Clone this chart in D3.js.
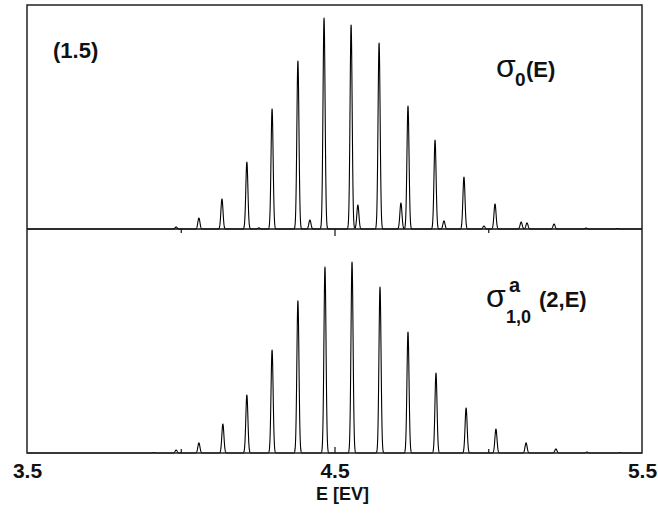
<!DOCTYPE html>
<html>
<head>
<meta charset="utf-8">
<script src="https://cdn.jsdelivr.net/npm/d3@7"></script>
<style>
  html, body { margin: 0; padding: 0; background: #fff; }
  svg { display: block; }
  text { font-family: "Liberation Sans", Arial, sans-serif; fill: #111; }
</style>
</head>
<body>
<svg id="chart" width="658" height="518"></svg>
<script>
// ---- data ----
// upper panel sigma_0(E): peak energies (eV) and heights (arb. units)
const topPeakE = [3.985, 4.059, 4.134, 4.215, 4.254, 4.297, 4.381, 4.420, 4.466, 4.554, 4.576, 4.645, 4.716, 4.739, 4.827, 4.856, 4.921, 4.986, 5.022, 5.107, 5.126, 5.214, 5.318, 5.419];
const topPeakH = [0.9, 4.9, 13.4, 29.9, 0.5, 53.6, 75.0, 4.0, 94.2, 91.1, 10.7, 83.0, 11.6, 54.9, 39.7, 3.6, 23.2, 1.3, 11.2, 3.1, 2.7, 2.2, 0.4, 0.2];
// lower panel sigma^a_{1,0}(2,E)
const botPeakE = [3.913, 3.985, 4.059, 4.137, 4.215, 4.297, 4.381, 4.469, 4.557, 4.648, 4.739, 4.830, 4.928, 5.025, 5.123, 5.220, 5.321, 5.428];
const botPeakH = [0.2, 1.3, 4.5, 12.9, 25.9, 46.0, 67.9, 83.0, 85.3, 74.1, 54.0, 35.7, 20.1, 10.7, 4.5, 1.8, 0.4, 0.2];
const xDomain = [3.5, 5.5];
const xLabelTicks = [3.5, 4.5, 5.5];
const minorTicks = [4.0, 5.0];
const majorTicks = [4.5];
const xTitle = "E [EV]";
const panelLabel = "(1.5)";

// ---- layout ----
const svg = d3.select("#chart");
const L = 27, R = 642, T = 5, M = 229, B = 453;
const x = d3.scaleLinear().domain(xDomain).range([L, R]);
const yTop = d3.scaleLinear().domain([0, 100]).range([M, T]);
const yBot = d3.scaleLinear().domain([0, 100]).range([B, M]);

// line profile built from peak lists (narrow line shape)
const grid = d3.range(xDomain[0], xDomain[1] + 1e-9, 0.0005);
const width = 0.0034;
function spectrum(Es, Hs) {
  return grid.map(e => {
    let v = 0;
    for (let i = 0; i < Es.length; i++) {
      const d = (e - Es[i]) / width;
      if (Math.abs(d) < 8) v += Hs[i] * Math.exp(-0.5 * d * d);
    }
    return [e, v];
  });
}

const lineTop = d3.line().x(d => x(d[0])).y(d => yTop(d[1]));
const lineBot = d3.line().x(d => x(d[0])).y(d => yBot(d[1]));

svg.append("path").attr("d", lineTop(spectrum(topPeakE, topPeakH)))
  .attr("fill", "none").attr("stroke", "#000").attr("stroke-width", 1.1).attr("stroke-linejoin", "round");
svg.append("path").attr("d", lineBot(spectrum(botPeakE, botPeakH)))
  .attr("fill", "none").attr("stroke", "#000").attr("stroke-width", 1.1).attr("stroke-linejoin", "round");

// frame
svg.append("rect").attr("x", L).attr("y", T).attr("width", R - L).attr("height", B - T)
  .attr("fill", "none").attr("stroke", "#222").attr("stroke-width", 1.5);
svg.append("line").attr("x1", L).attr("x2", R).attr("y1", M).attr("y2", M)
  .attr("stroke", "#111").attr("stroke-width", 1.5);

// ticks: upper panel bottom axis (outward, down), lower panel bottom axis (inward, up)
const gMid = svg.append("g").attr("transform", `translate(0,${M})`);
gMid.call(d3.axisBottom(x).tickValues(minorTicks).tickSize(4).tickFormat(""));
gMid.append("g").call(d3.axisBottom(x).tickValues(majorTicks).tickSize(7).tickFormat(""));
const gBot = svg.append("g").attr("transform", `translate(0,${B})`);
gBot.call(d3.axisTop(x).tickValues(minorTicks).tickSize(4).tickFormat(""));
gBot.append("g").call(d3.axisTop(x).tickValues(majorTicks).tickSize(6).tickFormat(""));
svg.selectAll(".domain").remove();
svg.selectAll(".tick line").attr("stroke", "#111").attr("stroke-width", 1.2);

// tick labels
const gLab = svg.append("g").attr("transform", `translate(0,${B})`);
gLab.call(d3.axisBottom(x).tickValues(xLabelTicks).tickSize(0).tickPadding(10).tickFormat(d3.format(".1f")));
gLab.select(".domain").remove();
gLab.selectAll("text").attr("font-size", 21).attr("font-family", "Liberation Sans, Arial, sans-serif")
  .style("font-weight", "bold").attr("fill", "#111");

// axis title
svg.append("text").attr("x", x(4.5) + 8).attr("y", 500).attr("text-anchor", "middle")
  .attr("font-size", 18).style("font-weight", "bold").text(xTitle);

// panel label
svg.append("text").attr("x", 53).attr("y", 58).attr("font-size", 22).style("font-weight", "bold").text(panelLabel);

// sigma_0(E)
svg.append("text").attr("x", 496).attr("y", 77).attr("font-size", 32).style("font-weight", "normal").text("σ");
svg.append("text").attr("x", 515).attr("y", 86).attr("font-size", 19).style("font-weight", "bold").text("0");
svg.append("text").attr("x", 526).attr("y", 77).attr("font-size", 22).style("font-weight", "bold").text("(E)");

// sigma^a_{1,0}(2,E)
svg.append("text").attr("x", 486).attr("y", 307).attr("font-size", 32).style("font-weight", "normal").text("σ");
svg.append("text").attr("x", 509).attr("y", 292).attr("font-size", 20).style("font-weight", "bold").text("a");
svg.append("text").attr("x", 506).attr("y", 323).attr("font-size", 18).style("font-weight", "bold").text("1,0");
svg.append("text").attr("x", 539).attr("y", 307).attr("font-size", 22).style("font-weight", "bold").text("(2,E)");
</script>
</body>
</html>
